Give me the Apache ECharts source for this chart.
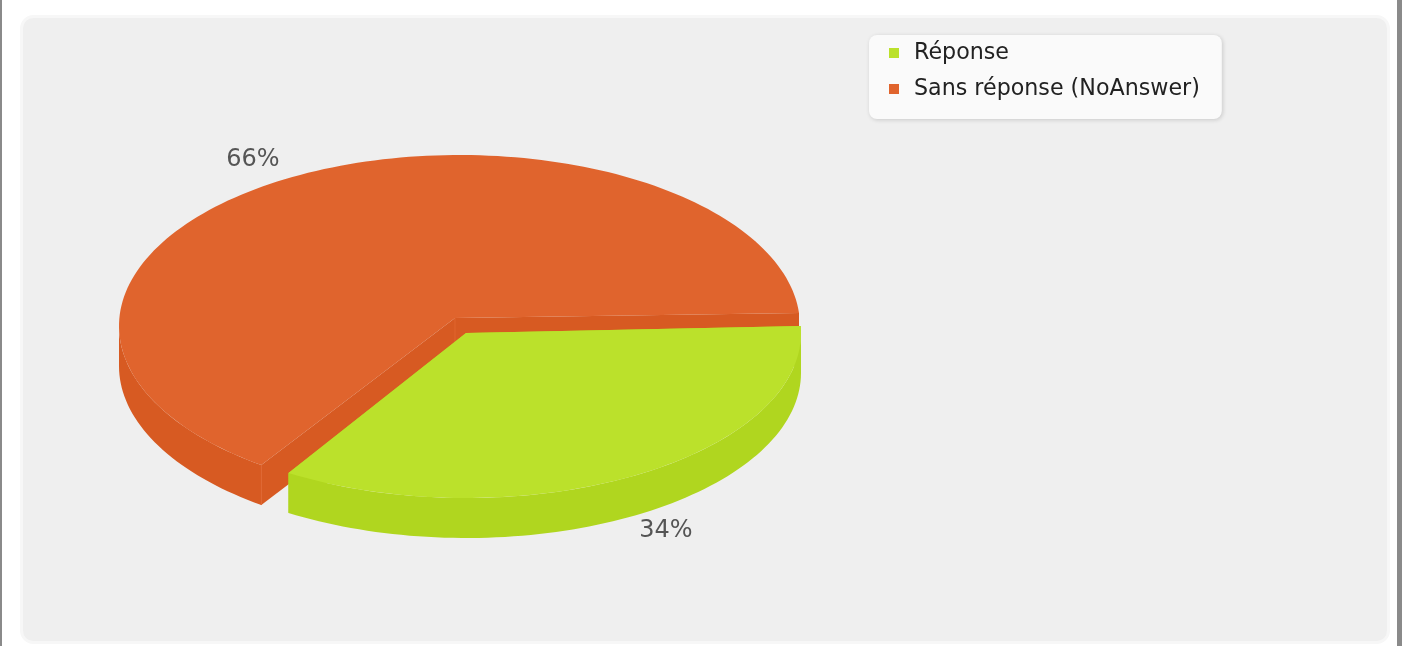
<!DOCTYPE html>
<html>
<head>
<meta charset="utf-8">
<style>
html,body{margin:0;padding:0;background:#fff}
#c{width:1406px;height:646px;filter:blur(0.55px)}
</style>
<script src="https://cdn.jsdelivr.net/npm/echarts@6/dist/echarts.min.js"></script>
</head>
<body>
<div id="c"></div>
<script>
var categories = ['Réponse', 'Sans réponse (NoAnswer)'];
var percents = [34, 66];
var colors = ['#BBE12B', '#E0642D'];
var sideColors = ['#B0D61F', '#D75A22'];

var DEPTH = 40;
var GEOM = [
  {cx: 466, cy: 333, rx: 335, ry: 165, apexX: 466, apexY: 333, start: -2.4, trim: -2, label: [666, 531], seam: false},
  {cx: 459.5, cy: 326, rx: 340.5, ry: 171, apexX: 455, apexY: 318, start: 125.6, trim: 7.6, label: [253, 160], seam: true}
];

function arc(g, a0, a1, dy) {
  var pts = [], n = Math.max(2, Math.ceil(Math.abs(a1 - a0) / 1.5));
  for (var i = 0; i <= n; i++) {
    var t = (a0 + (a1 - a0) * i / n) * Math.PI / 180;
    pts.push([g.cx + g.rx * Math.cos(t), g.cy + g.ry * Math.sin(t) + dy]);
  }
  return pts;
}

function sliceRenderer(idx) {
  return function (params, api) {
    var g = GEOM[idx];
    var sweep = api.value(0) / 100 * 360 - g.trim;
    var a0 = g.start, a1 = g.start + sweep;
    var kids = [];
    var apex = [g.apexX, g.apexY];
    var first = arc(g, a0, a0, 0)[0], last = arc(g, a1, a1, 0)[0];
    var shade = {fill: sideColors[idx]};

    // inner walls of the slice
    [first, last].forEach(function (p) {
      kids.push({type: 'polygon', shape: {points: [apex, p, [p[0], p[1] + DEPTH], [apex[0], apex[1] + DEPTH]]}, style: shade});
    });
    // outer wall, only the part that faces the viewer
    var w0 = Math.max(a0, 0), w1 = Math.min(a1, 180);
    kids.push({type: 'polygon', shape: {points: arc(g, w0, w1, 0).concat(arc(g, w1, w0, DEPTH))}, style: shade});
    // faint seams on the vertical corners
    if (g.seam) {
      [first, apex].forEach(function (p) {
        kids.push({type: 'line', shape: {x1: p[0], y1: p[1], x2: p[0], y2: p[1] + DEPTH},
          style: {stroke: colors[idx], lineWidth: 1}});
      });
    }
    // top face
    kids.push({type: 'polygon', shape: {points: [apex].concat(arc(g, a0, a1, 0))}, style: {fill: colors[idx]}});
    // percentage label
    kids.push({type: 'text', x: g.label[0], y: g.label[1], style: {
      text: api.value(0) + '%', fill: '#555555', fontSize: 24,
      fontFamily: 'DejaVu Sans', align: 'center', verticalAlign: 'middle'
    }});
    return {type: 'group', children: kids};
  };
}

var chart = echarts.init(document.getElementById('c'));
chart.setOption({
  animation: false,
  graphic: [
    {type: 'rect', z: 0, shape: {x: 0, y: 0, width: 2, height: 646}, style: {fill: '#8a8a8a'}},
    {type: 'rect', z: 0, shape: {x: 1397, y: 0, width: 5, height: 646}, style: {fill: '#8a8a8a'}},
    {type: 'rect', z: 0, shape: {x: 21.5, y: 16.5, width: 1367, height: 626, r: 12},
      style: {fill: '#EFEFEF', stroke: '#F7F7F7', lineWidth: 3}}
  ],
  legend: {
    data: categories,
    orient: 'vertical',
    left: 869, top: 35,
    padding: [7, 22, 19, 20],
    itemWidth: 10, itemHeight: 10, itemGap: 14,
    icon: 'rect',
    backgroundColor: '#FAFAFA',
    borderRadius: 8,
    shadowColor: 'rgba(0,0,0,0.16)', shadowBlur: 4, shadowOffsetX: 1, shadowOffsetY: 1,
    selectedMode: false,
    textStyle: {fontFamily: 'DejaVu Sans', fontSize: 22.2, color: '#222222', padding: [0, 0, 0, 10]}
  },
  series: [
    {type: 'custom', name: categories[1], coordinateSystem: 'none', z: 3, silent: true,
      itemStyle: {color: colors[1]}, data: [[percents[1]]], renderItem: sliceRenderer(1)},
    {type: 'custom', name: categories[0], coordinateSystem: 'none', z: 4, silent: true,
      itemStyle: {color: colors[0]}, data: [[percents[0]]], renderItem: sliceRenderer(0)}
  ]
});
</script>
</body>
</html>
